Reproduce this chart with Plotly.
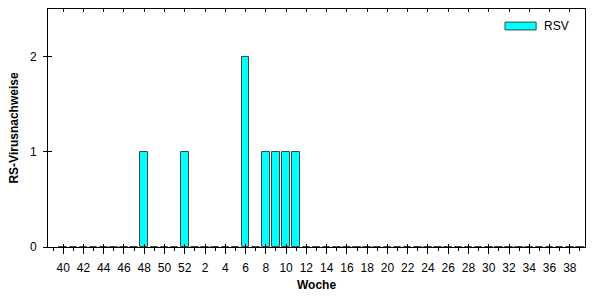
import plotly.graph_objects as go

# Data
weeks = [str(w) for w in list(range(40, 53)) + list(range(1, 40))]
rsv_values = {"48": 1, "52": 1, "6": 2, "8": 1, "9": 1, "10": 1, "11": 1}
counts = [rsv_values.get(w, 0) for w in weeks]
label_weeks = [str(w) for w in list(range(40, 53, 2)) + list(range(2, 39, 2))]

x_idx = list(range(len(weeks)))
tick_idx = [weeks.index(w) for w in label_weeks]

FONT = "Liberation Sans, Arial, sans-serif"
fig = go.Figure()
fig.add_trace(go.Bar(
    x=x_idx, y=counts, name="RSV", width=0.75,
    marker=dict(color="#00FFFF", line=dict(color="#3A4A4A", width=1)),
    showlegend=False,
))

xr = [-1.5, len(weeks) - 0.5]
yr = [0, 2.5]
fig.update_layout(
    width=602, height=300,
    margin=dict(l=48, r=17, t=9, b=53),
    paper_bgcolor="white", plot_bgcolor="white",
    font=dict(family=FONT, size=12, color="black"),
    bargap=0,
    xaxis=dict(
        range=xr, tickmode="array", tickvals=tick_idx, ticktext=label_weeks,
        ticks="outside", ticklen=6, tickcolor="black", tickwidth=1,
        minor=dict(ticks="outside", ticklen=3, dtick=1, tick0=0, tickcolor="black", showgrid=False),
        showline=True, linecolor="black", linewidth=1, mirror=False,
        showgrid=False, zeroline=False, ticklabelstandoff=4,
        title=dict(text="<b>Woche</b>", font=dict(size=12), standoff=6),
    ),
    xaxis2=dict(
        overlaying="x", range=xr, tickmode="array", tickvals=tick_idx, ticktext=[""] * len(tick_idx),
        ticks="inside", ticklen=3, tickcolor="black", showticklabels=False,
        showline=True, linecolor="black", linewidth=1, mirror="ticks",
        showgrid=False, zeroline=False, side="bottom",
    ),
    yaxis=dict(
        range=yr, tickvals=[0, 1, 2], ticks="outside", ticklen=4, tickcolor="black",
        showline=True, linecolor="black", linewidth=1, mirror=True,
        showgrid=False, zeroline=False, ticklabelstandoff=4,
        title=dict(text="<b>RS-Virusnachweise</b>", font=dict(size=12), standoff=8),
    ),
    yaxis2=dict(
        overlaying="y", range=yr, tickvals=[0, 1, 2], ticks="inside", ticklen=4,
        tickcolor="black", showticklabels=False, showline=False,
        showgrid=False, zeroline=False,
    ),
    showlegend=False,
)
# invisible trace to anchor the overlay axes
fig.add_trace(go.Bar(x=x_idx, y=counts, xaxis="x2", yaxis="y2", opacity=0,
                     showlegend=False, hoverinfo="skip", width=0.75))

# legend-like key
fig.add_shape(type="rect", xref="paper", yref="paper", x0=0.851, x1=0.909, y0=0.912, y1=0.945,
              fillcolor="#00FFFF", line=dict(color="#3A4A4A", width=1))
fig.add_annotation(text="RSV", xref="paper", yref="paper", x=0.919, y=0.9286,
                   xanchor="left", yanchor="middle", showarrow=False,
                   font=dict(family=FONT, size=12, color="black"))

fig.write_html("out.html")
